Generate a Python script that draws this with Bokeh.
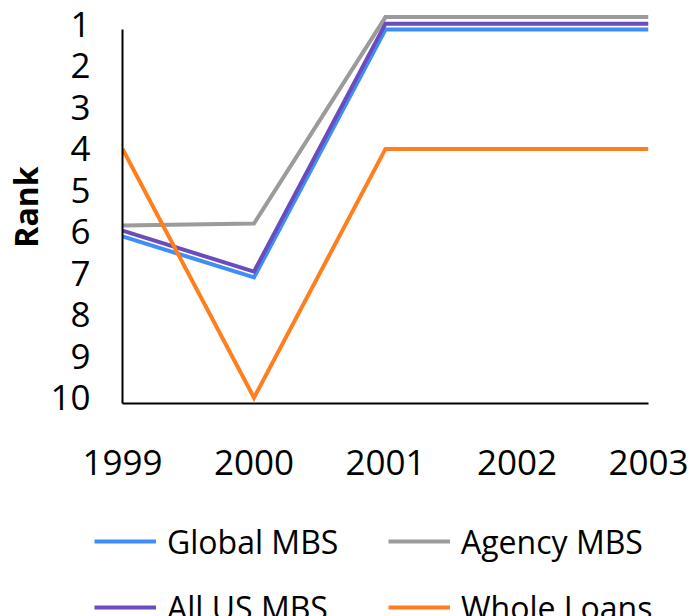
from bokeh.plotting import figure
from bokeh.layouts import column
from bokeh.models import Range1d, LinearAxis, FixedTicker, Legend, LegendItem
from bokeh.embed import file_html
from bokeh.resources import INLINE

years = [1999, 2000, 2001, 2002, 2003]
global_mbs = [6.11, 7.10, 1.12, 1.12, 1.12]
agency_mbs = [5.85, 5.80, 0.82, 0.82, 0.82]
all_us_mbs = [5.97, 6.96, 0.98, 0.98, 0.98]
whole_loans = [4, 10, 4, 4, 4]
rank_ticks = list(range(1, 11))

series_names = ["Global MBS", "Agency MBS", "All US MBS", "Whole Loans"]
series_values = [global_mbs, agency_mbs, all_us_mbs, whole_loans]
series_colors = ["#3d8ef8", "#9b9b9b", "#6a4cbc", "#ff7f1e"]

FONT = "Open Sans"
W = 690
H_MAIN = 500
H_LEG = 116

p = figure(width=W, height=H_MAIN, output_backend="svg", toolbar_location=None,
           x_range=Range1d(1999, 2003), y_range=Range1d(10.14, 0.662),
           x_axis_location=None, y_axis_location=None,
           min_border_left=122, min_border_right=42, min_border_top=10,
           min_border_bottom=97, frame_align=False)
p.grid.visible = False
p.outline_line_color = None
p.background_fill_color = "white"
p.border_fill_color = "white"

for name, vals, col in zip(series_names, series_values, series_colors):
    p.line(years, vals, line_color=col, line_width=4, line_join="miter")

# y axis line (bounded)
yline = LinearAxis(bounds=(1.13, 10.14), ticker=FixedTicker(ticks=[]),
                   axis_line_width=2, axis_line_color="black",
                   major_tick_out=0, major_tick_in=0, minor_tick_out=0, minor_tick_in=0,
                   major_label_standoff=0)
p.add_layout(yline, "left")

ylab = LinearAxis(ticker=FixedTicker(ticks=rank_ticks), axis_line_color=None,
                  major_tick_line_color=None, minor_tick_line_color=None,
                  major_tick_out=0, major_tick_in=0,
                  major_label_standoff=32,
                  major_label_text_font=FONT, major_label_text_font_size="35px",
                  major_label_text_color="black",
                  axis_label="Rank", axis_label_text_font=FONT,
                  axis_label_text_font_size="32px", axis_label_text_font_style="bold",
                  axis_label_text_color="black", axis_label_standoff=0)
p.add_layout(ylab, "left")

xax = LinearAxis(ticker=FixedTicker(ticks=years), axis_line_width=2, axis_line_color="black",
                 major_tick_line_color=None, minor_tick_line_color=None,
                 major_tick_out=0, major_tick_in=0,
                 major_label_standoff=46,
                 major_label_text_font=FONT, major_label_text_font_size="35px",
                 major_label_text_color="black")
p.add_layout(xax, "below")

# legend panel (its lines use the same series but lie outside its view)
q = figure(width=W, height=H_LEG, output_backend="svg", toolbar_location=None,
           x_range=Range1d(0, 1), y_range=Range1d(0, 1),
           x_axis_location=None, y_axis_location=None,
           min_border=0, min_border_left=0, min_border_right=0,
           min_border_top=0, min_border_bottom=0, frame_align=False)
q.grid.visible = False
q.outline_line_color = None
q.border_fill_color = "white"
renderers = []
for name, vals, col in zip(series_names, series_values, series_colors):
    renderers.append(q.line(years, vals, line_color=col, line_width=4))

items = [LegendItem(label=n, renderers=[r]) for n, r in zip(series_names, renderers)]
legend = Legend(items=items, location=(94, -24), orientation="horizontal", ncols=2,
                glyph_width=62, glyph_height=66, label_standoff=11, label_width=221,
                label_height=66, spacing=0, padding=0, margin=0,
                label_text_font=FONT, label_text_font_size="32px",
                label_text_color="black", label_text_baseline="middle",
                border_line_color=None, background_fill_alpha=0)
q.add_layout(legend)

layout = column(p, q, spacing=0)
open("out.html", "w").write(file_html(layout, INLINE))
